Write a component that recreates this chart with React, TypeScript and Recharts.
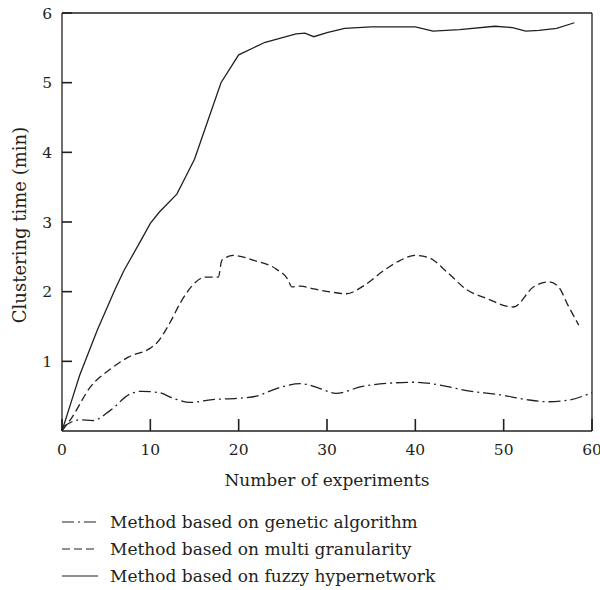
import { LineChart, Line, XAxis, YAxis, Legend, ReferenceLine } from "recharts";

const xTicks = [0, 10, 20, 30, 40, 50, 60];
const yTicks = [1, 2, 3, 4, 5, 6];

const geneticX = [0, 2, 3.5, 5.5, 7.7, 9, 11, 12.6, 14.5, 17, 20, 22, 24.3, 27, 29.2, 31, 34, 37.5, 40, 42.8, 45.8, 49.6, 52.6, 55, 57.2, 60];
const geneticY = [0.05, 0.16, 0.15, 0.3, 0.53, 0.57, 0.55, 0.47, 0.41, 0.45, 0.47, 0.5, 0.61, 0.68, 0.61, 0.54, 0.64, 0.69, 0.7, 0.66, 0.58, 0.52, 0.45, 0.42, 0.44, 0.55];

const multiX = [0, 1.1, 3.2, 5.6, 7.5, 10, 10.7, 12.2, 13.4, 14.7, 16.2, 17.7, 18.1, 19.4, 21.7, 24.3, 25.6, 26, 27, 28.5, 30.7, 32.2, 34.1, 36.4, 38.3, 40, 41.5, 43.6, 45.8, 48.1, 51.1, 53.4, 55.1, 56.2, 57.3, 58.5];
const multiY = [0, 0.19, 0.63, 0.9, 1.06, 1.19, 1.26, 1.55, 1.84, 2.08, 2.21, 2.21, 2.45, 2.52, 2.45, 2.32, 2.17, 2.07, 2.08, 2.04, 1.99, 1.97, 2.08, 2.3, 2.45, 2.52, 2.49, 2.28, 2.03, 1.9, 1.78, 2.07, 2.14, 2.07, 1.8, 1.52];

const fuzzyX = [0, 1, 2, 4, 6, 7, 9, 10, 11, 13, 14, 15, 16.5, 18, 20, 23, 26.5, 27.5, 28.5, 30, 32, 35, 40, 42, 45, 49, 51, 52.5, 54, 56, 58];
const fuzzyY = [0, 0.4, 0.8, 1.45, 2.03, 2.3, 2.75, 2.98, 3.14, 3.4, 3.65, 3.9, 4.45, 5.0, 5.4, 5.58, 5.7, 5.71, 5.66, 5.72, 5.78, 5.8, 5.8, 5.74, 5.76, 5.81, 5.79, 5.74, 5.75, 5.78, 5.86];

const INK = "#231f20";
const FONT = "DejaVu Serif";

function toPoints(xs: number[], ys: number[]) {
  return xs.map((x, i) => ({ x, y: ys[i] }));
}

const SERIES = [
  { name: "Method based on genetic algorithm", data: toPoints(geneticX, geneticY), dash: "12 4 2 4", curve: "monotone" },
  { name: "Method based on multi granularity", data: toPoints(multiX, multiY), dash: "8 4", curve: "monotone" },
  { name: "Method based on fuzzy hypernetwork", data: toPoints(fuzzyX, fuzzyY), dash: undefined, curve: "linear" },
];

function LegendBox() {
  return (
    <div
      style={{
        height: 100,
        paddingLeft: 62,
        paddingTop: 18,
        boxSizing: "border-box",
        fontSize: 17,
        fontFamily: FONT,
        color: INK,
      }}
    >
      {SERIES.map((s) => (
        <div key={s.name} style={{ display: "flex", alignItems: "center", height: 27 }}>
          <svg width={36} height={8}>
            <line x1={0} y1={4} x2={36} y2={4} stroke={INK} strokeWidth={1.2} strokeDasharray={s.dash} />
          </svg>
          <span style={{ marginLeft: 12 }}>{s.name}</span>
        </div>
      ))}
    </div>
  );
}

// ticks point into the plot, so draw the marks ourselves
function XTick(props: any) {
  const { x, y, payload } = props;
  return (
    <g>
      <rect x={x - 0.8} y={y - 25} width={1.6} height={12} fill={INK} />
      <text x={x} y={y} dy="0.71em" textAnchor="middle" fill={INK} fontSize={15.5} fontFamily={FONT}>
        {payload.value}
      </text>
    </g>
  );
}

function YTick(props: any) {
  const { x, y, payload } = props;
  return (
    <g>
      <rect x={x + 10} y={y - 0.8} width={10} height={1.6} fill={INK} />
      <text x={x} y={y} dy="0.355em" textAnchor="end" fill={INK} fontSize={15.5} fontFamily={FONT}>
        {payload.value}
      </text>
    </g>
  );
}

export default function App() {
  return (
    <div style={{ position: "absolute", left: 0, top: 0, background: "#fff" }}>
      <LineChart width={600} height={590} margin={{ top: 13, right: 8, bottom: 0, left: 0 }}>
        <XAxis
          type="number"
          dataKey="x"
          domain={[0, 60]}
          ticks={xTicks}
          height={59}
          tickSize={0}
          tickMargin={13}
          tickLine={false}
          stroke={INK}
          strokeWidth={1.3}
          tick={<XTick />}
          label={{
            value: "Number of experiments",
            position: "insideBottom",
            offset: 4,
            fill: INK,
            fontSize: 17,
            fontFamily: FONT,
          }}
        />
        <YAxis
          type="number"
          domain={[0, 6]}
          ticks={yTicks}
          width={62}
          tickSize={0}
          tickMargin={10}
          tickLine={false}
          stroke={INK}
          strokeWidth={1.3}
          tick={<YTick />}
          label={{
            value: "Clustering time (min)",
            angle: -90,
            position: "center",
            dx: -11,
            dy: 3,
            fill: INK,
            fontSize: 18,
            fontFamily: FONT,
          }}
        />
        <ReferenceLine y={6} stroke={INK} strokeWidth={1.3} />
        <ReferenceLine x={60} stroke={INK} strokeWidth={1.3} />
        {SERIES.map((s) => (
          <Line
            key={s.name}
            name={s.name}
            data={s.data}
            dataKey="y"
            type={s.curve as any}
            stroke={INK}
            strokeWidth={1.3}
            strokeDasharray={s.dash}
            dot={false}
            activeDot={false}
            isAnimationActive={false}
          />
        ))}
        <Legend verticalAlign="bottom" align="left" content={() => <LegendBox />} />
      </LineChart>
    </div>
  );
}
